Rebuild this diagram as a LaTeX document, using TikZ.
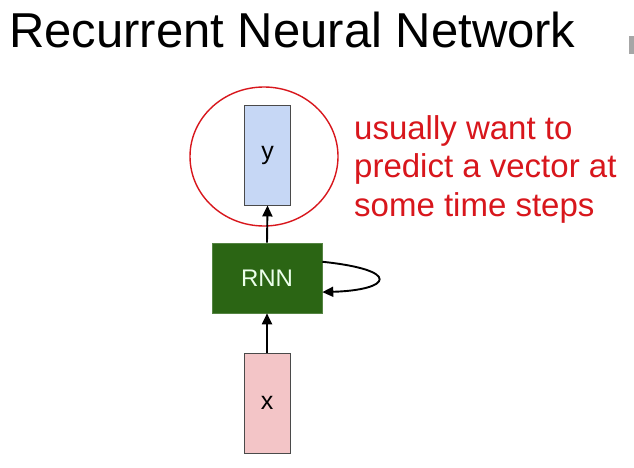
\documentclass[tikz,border=0pt]{standalone}
\usepackage{fontspec}
\setmainfont{Liberation Sans}
\usetikzlibrary{arrows.meta,calc,shapes.geometric}
\definecolor{redtxt}{HTML}{D8161C}
\definecolor{rnngreen}{HTML}{2B6514}
\definecolor{yblue}{HTML}{C6D7F5}
\definecolor{xpink}{HTML}{F3C5C7}
\definecolor{boxedge}{HTML}{4A4A4A}
\tikzset{
  vecbox/.style={draw=boxedge, line width=0.9pt, minimum width=46pt, minimum height=100pt, inner sep=0pt, font=\fontsize{25}{25}\selectfont},
  conn/.style={line width=1.9pt, -{Triangle[length=11pt,width=10pt]}},
}
\begin{document}
\begin{tikzpicture}[x=1pt,y=-1pt]
\useasboundingbox (0,0) rectangle (634,468);
\fill[white] (0,0) rectangle (634,468);
\node[anchor=base west, inner sep=0pt, font=\fontsize{49}{49}\selectfont] (title) at (9,48) {Recurrent Neural Network};
\fill[gray!70] (629,36) rectangle (634,54);
\node[vecbox, fill=yblue] (y) at (267.5,155) {y};
\node[draw=rnngreen!80!white, line width=0.6pt, fill=rnngreen, minimum width=110pt, minimum height=70pt, inner sep=0pt, text=green!8!white, font=\fontsize{24}{24}\selectfont] (rnn) at (267,278) {RNN};
\node[vecbox, fill=xpink] (x) at (267,403) {x};
\node[draw=redtxt, line width=1.4pt, ellipse, minimum width=148pt, minimum height=139pt, inner sep=0pt] (circ) at (264,156.5) {};
\draw[conn] (x.north) -- (rnn.south);
\draw[conn] (rnn.north) -- (y.south);
\coordinate (lo) at ($(rnn.north east)!0.27!(rnn.south east)$);
\coordinate (li) at ($(rnn.north east)!0.70!(rnn.south east)$);
\draw[conn] (lo) .. controls (402,270) and (392,290) .. (li);
\node[anchor=base west, inner sep=0pt, align=left, text=redtxt, font=\fontsize{33}{38.5}\selectfont] (note) at (354,216) {usually want to\\predict a vector at\\some time steps};
\end{tikzpicture}
\end{document}
